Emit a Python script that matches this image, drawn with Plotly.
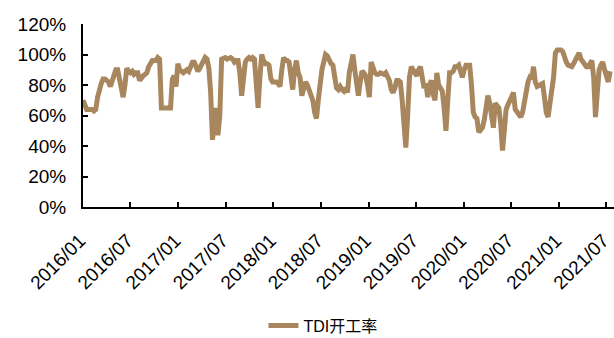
import plotly.graph_objects as go
import pandas as pd

# Weekly TDI operating rate (%), starting 2016-01-01
start_date = "2016-01-01"
tdi_rate = [
    70, 66, 64, 64, 64, 64, 63, 64, 72, 78,
    81, 84, 84, 83, 82, 79, 83, 86, 90, 90,
    85, 77, 72, 80, 91, 89, 88, 89, 87, 88,
    88, 83, 85, 86, 87, 88, 92, 95, 96, 96,
    96, 98, 97, 65, 65, 65, 65, 65, 65, 84,
    86, 79, 94, 90, 89, 88, 89, 90, 89, 92,
    95, 95, 92, 89, 91, 94, 96, 98, 97, 91,
    75, 44, 58, 65, 47, 60, 97, 98, 98, 97,
    98, 98, 97, 95, 96, 96, 88, 73, 84, 95,
    97, 98, 97, 98, 97, 85, 65, 85, 100, 96,
    94, 94, 93, 84, 82, 82, 82, 81, 79, 90,
    98, 96, 96, 95, 85, 77, 90, 96, 88, 85,
    73, 78, 82, 80, 77, 75, 70, 62, 58, 70,
    83, 90, 95, 100, 99, 96, 94, 93, 85, 78,
    77, 79, 77, 76, 78, 75, 88, 97, 100, 90,
    80, 73, 82, 89, 88, 86, 80, 72, 95, 90,
    88, 87, 87, 88, 87, 87, 88, 85, 83, 77,
    75, 78, 83, 83, 82, 70, 50, 39, 60, 85,
    92, 90, 87, 86, 90, 92, 85, 78, 81, 72,
    80, 83, 74, 70, 88, 80, 78, 76, 65, 50,
    70, 88, 88, 89, 92, 92, 93, 90, 85, 90,
    93, 93, 93, 80, 62, 59, 58, 49, 50, 52,
    57, 66, 73, 68, 58, 52, 68, 67, 65, 55,
    37, 50, 64, 67, 70, 72, 75, 64, 62, 60,
    59, 62, 70, 77, 82, 85, 84, 92, 82, 79,
    80, 81, 81, 72, 62, 59, 68, 72, 85, 101,
    103, 103, 103, 102, 98, 95, 93, 92, 92, 94,
    97, 99, 101, 97, 95, 93, 92, 92, 94, 96,
    85, 59, 75, 90, 93, 95, 90, 84, 82, 89,
]
dates = pd.date_range(start_date, periods=len(tdi_rate), freq="7D")

tick_dates = ["2016-01-01", "2016-07-01", "2017-01-01", "2017-07-01",
              "2018-01-01", "2018-07-01", "2019-01-01", "2019-07-01",
              "2020-01-01", "2020-07-01", "2021-01-01", "2021-07-01"]
tick_labels = ["2016/01", "2016/07", "2017/01", "2017/07", "2018/01", "2018/07",
               "2019/01", "2019/07", "2020/01", "2020/07", "2021/01", "2021/07"]
series_name = "TDI开工率"

fig = go.Figure()
fig.add_trace(go.Scatter(
    x=dates, y=tdi_rate, mode="lines", name=series_name,
    line=dict(color="#A8865E", width=5),
))

font_family = "Liberation Sans, Arial, Noto Sans CJK SC, sans-serif"
fig.update_layout(
    width=614, height=338,
    margin=dict(l=83, r=0, t=24, b=131),
    paper_bgcolor="white", plot_bgcolor="white",
    font=dict(family=font_family, size=19, color="black"),
    showlegend=True,
    legend=dict(
        orientation="h", xref="container", yref="container",
        x=0.526, y=0.037, xanchor="center", yanchor="middle",
        font=dict(size=16, family="Liberation Sans, Noto Sans CJK SC, sans-serif"),
        bgcolor="rgba(0,0,0,0)",
    ),
)
fig.update_xaxes(
    type="date", range=["2016-01-01", "2021-07-31"],
    tickvals=tick_dates, ticktext=tick_labels, tickangle=-45,
    ticks="inside", ticklen=5, tickwidth=1.5, tickcolor="black",
    showline=True, linecolor="black", linewidth=2,
    showgrid=False, zeroline=False, automargin=False,
    tickfont=dict(size=19), ticklabelstandoff=13, ticklabelshift=-3,
    ticklabeloverflow="allow",
)
fig.update_yaxes(
    range=[0, 120], dtick=20, tick0=0, ticksuffix="%",
    ticks="inside", ticklen=5, tickwidth=1.5, tickcolor="black",
    showline=True, linecolor="black", linewidth=2,
    showgrid=False, zeroline=False, automargin=False,
    tickfont=dict(size=19), ticklabelstandoff=11,
)

fig.write_html(
    "out.html",
    config={"displayModeBar": False},
    post_script="document.body.style.margin='0';document.body.style.padding='0';",
)
